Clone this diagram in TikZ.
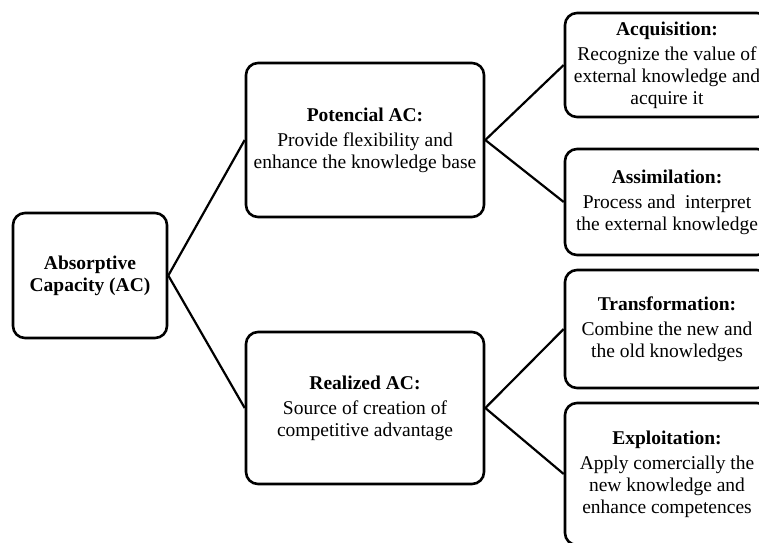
\documentclass[tikz,border=0pt]{standalone}
\usepackage{fontspec}
\setmainfont{Liberation Serif}
\begin{document}
\begin{tikzpicture}[x=1pt,y=-1pt,
  box/.style={draw=black, line width=2.6pt, rounded corners=12pt, fill=white, align=center, inner sep=0pt, font=\fontsize{19.5}{22}\selectfont},
  link/.style={draw=black, line width=2.2pt}]
  \useasboundingbox (0,0) rectangle (759,542);

  \node[box, minimum width=154pt, minimum height=125pt] (ac) at (90,275.5) {\textbf{Absorptive}\\\textbf{Capacity (AC)}};
  \node[box, minimum width=238pt, minimum height=154pt] (potac) at (365,140) {\textbf{Potencial AC:}\\[3pt]Provide flexibility and\\enhance the knowledge base};
  \node[box, minimum width=238pt, minimum height=152pt] (realac) at (365,408) {\textbf{Realized AC:}\\[3pt]Source of creation of\\competitive advantage};

  \node[box, minimum width=204pt, minimum height=104pt] (acq) at (667,65) {\textbf{Acquisition:}\\[3pt]Recognize the value of\\external knowledge and\\acquire it};
  \node[box, minimum width=204pt, minimum height=106pt] (assim) at (667,202) {\textbf{Assimilation:}\\[3pt]Process and\ \ interpret\\the external knowledge};
  \node[box, minimum width=204pt, minimum height=118pt] (transf) at (667,329) {\textbf{Transformation:}\\[3pt]Combine the new and\\the old knowledges};
  \node[box, minimum width=204pt, minimum height=142pt] (exploit) at (667,474) {\textbf{Exploitation:}\\[3pt]Apply comercially the\\new knowledge and\\enhance competences};

  \draw[link] (ac.east) -- (potac.west);
  \draw[link] (ac.east) -- (realac.west);
  \draw[link] (potac.east) -- (acq.west);
  \draw[link] (potac.east) -- (assim.west);
  \draw[link] (realac.east) -- (transf.west);
  \draw[link] (realac.east) -- (exploit.west);
\end{tikzpicture}
\end{document}
